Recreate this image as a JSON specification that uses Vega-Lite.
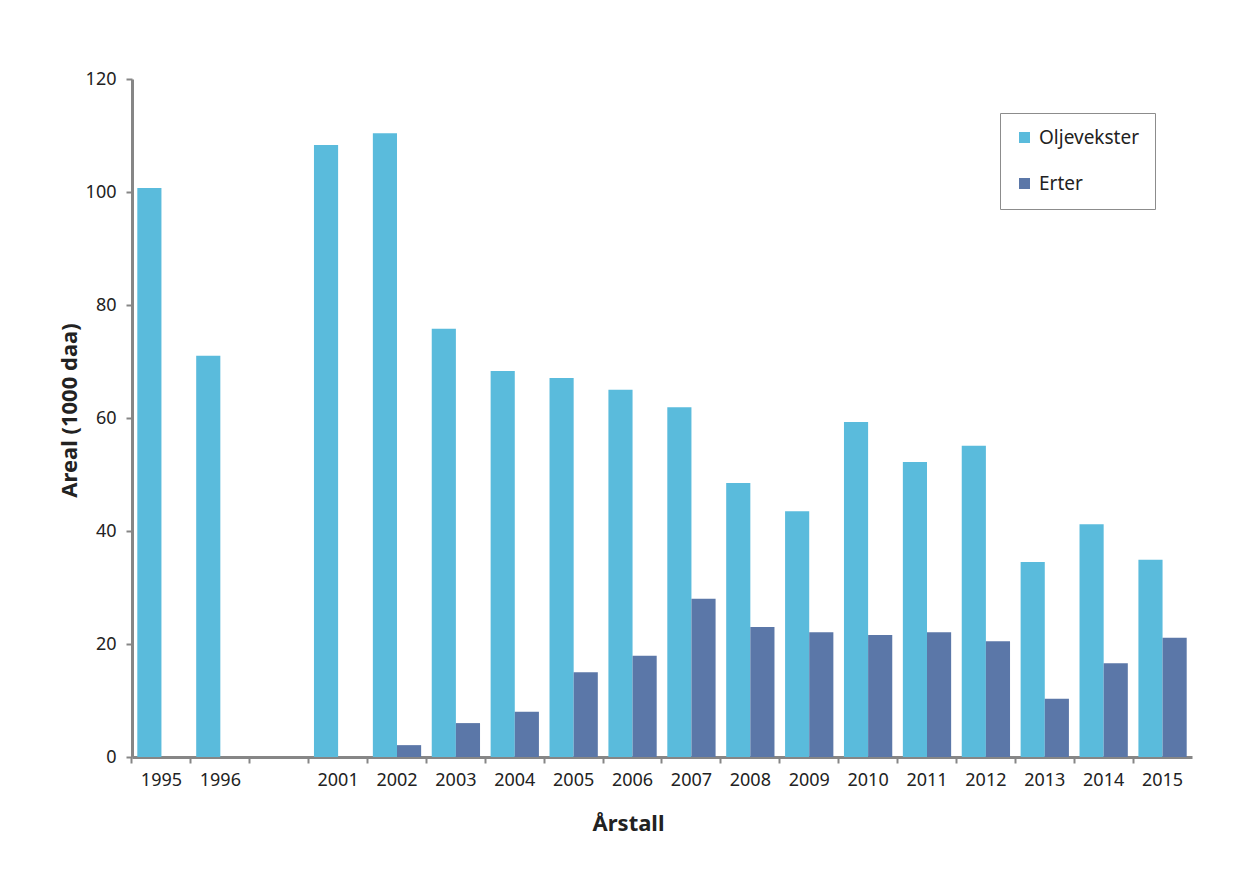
{
  "$schema": "https://vega.github.io/schema/vega-lite/v6.json",
  "autosize": "none",
  "width": 1060,
  "height": 678,
  "padding": {"left": 132, "top": 79, "right": 58, "bottom": 136},
  "background": "white",
  "config": {
    "view": {"stroke": null},
    "font": "Noto Sans",
    "axis": {"grid": false, "domainColor": "#868686", "domainWidth": 3, "tickColor": "#868686", "tickWidth": 2, "tickSize": 6, "labelColor": "#222222", "titleColor": "#222222", "labelFont": "Noto Sans", "titleFont": "Noto Sans"}
  },
  "data": {
    "values": [
      {"year": "1995", "serie": "Oljevekster", "areal": 100.7},
      {"year": "1996", "serie": "Oljevekster", "areal": 71.0},
      {"year": "2001", "serie": "Oljevekster", "areal": 108.3},
      {"year": "2002", "serie": "Oljevekster", "areal": 110.4},
      {"year": "2002", "serie": "Erter", "areal": 2.1},
      {"year": "2003", "serie": "Oljevekster", "areal": 75.8},
      {"year": "2003", "serie": "Erter", "areal": 6.0},
      {"year": "2004", "serie": "Oljevekster", "areal": 68.3},
      {"year": "2004", "serie": "Erter", "areal": 8.0},
      {"year": "2005", "serie": "Oljevekster", "areal": 67.1},
      {"year": "2005", "serie": "Erter", "areal": 15.0},
      {"year": "2006", "serie": "Oljevekster", "areal": 65.0},
      {"year": "2006", "serie": "Erter", "areal": 17.9},
      {"year": "2007", "serie": "Oljevekster", "areal": 61.9},
      {"year": "2007", "serie": "Erter", "areal": 28.0},
      {"year": "2008", "serie": "Oljevekster", "areal": 48.5},
      {"year": "2008", "serie": "Erter", "areal": 23.0},
      {"year": "2009", "serie": "Oljevekster", "areal": 43.5},
      {"year": "2009", "serie": "Erter", "areal": 22.1},
      {"year": "2010", "serie": "Oljevekster", "areal": 59.3},
      {"year": "2010", "serie": "Erter", "areal": 21.6},
      {"year": "2011", "serie": "Oljevekster", "areal": 52.2},
      {"year": "2011", "serie": "Erter", "areal": 22.1},
      {"year": "2012", "serie": "Oljevekster", "areal": 55.1},
      {"year": "2012", "serie": "Erter", "areal": 20.5},
      {"year": "2013", "serie": "Oljevekster", "areal": 34.5},
      {"year": "2013", "serie": "Erter", "areal": 10.3},
      {"year": "2014", "serie": "Oljevekster", "areal": 41.2},
      {"year": "2014", "serie": "Erter", "areal": 16.6},
      {"year": "2015", "serie": "Oljevekster", "areal": 34.9},
      {"year": "2015", "serie": "Erter", "areal": 21.1}
    ]
  },
  "mark": {"type": "bar"},
  "encoding": {
    "x": {
      "field": "year",
      "type": "nominal",
      "scale": {"domain": ["1995", "1996", " ", "2001", "2002", "2003", "2004", "2005", "2006", "2007", "2008", "2009", "2010", "2011", "2012", "2013", "2014", "2015"], "paddingInner": 0.18, "paddingOuter": 0.09},
      "axis": {"title": "Årstall", "labelAngle": 0, "labelFontSize": 18, "labelPadding": 8, "titleFontSize": 22, "titleFontWeight": "bold", "titlePadding": 24, "titleX": 496, "bandPosition": -0.1098}
    },
    "xOffset": {"field": "serie", "type": "nominal", "sort": ["Oljevekster", "Erter"], "scale": {"domain": ["Oljevekster", "Erter"], "paddingInner": 0, "paddingOuter": 0}},
    "y": {
      "field": "areal",
      "type": "quantitative",
      "scale": {"domain": [0, 120], "nice": false},
      "axis": {"title": "Areal (1000 daa)", "values": [0, 20, 40, 60, 80, 100, 120], "labelFontSize": 18, "labelPadding": 10, "titleFontSize": 22, "titleFontWeight": "bold", "titlePadding": 4, "titleY": 331}
    },
    "color": {
      "field": "serie",
      "type": "nominal",
      "sort": ["Oljevekster", "Erter"],
      "scale": {"domain": ["Oljevekster", "Erter"], "range": ["#5ABBDC", "#5B77A8"]},
      "legend": {
        "title": null,
        "orient": "none",
        "legendX": 868,
        "legendY": 34,
        "padding": 15,
        "strokeColor": "#8c8c8c",
        "symbolType": "square",
        "symbolSize": 121,
        "symbolStrokeWidth": 0,
        "symbolOpacity": 1,
        "labelFontSize": 19,
        "labelColor": "#222222",
        "labelOffset": 5,
        "rowPadding": 26
      }
    }
  }
}
